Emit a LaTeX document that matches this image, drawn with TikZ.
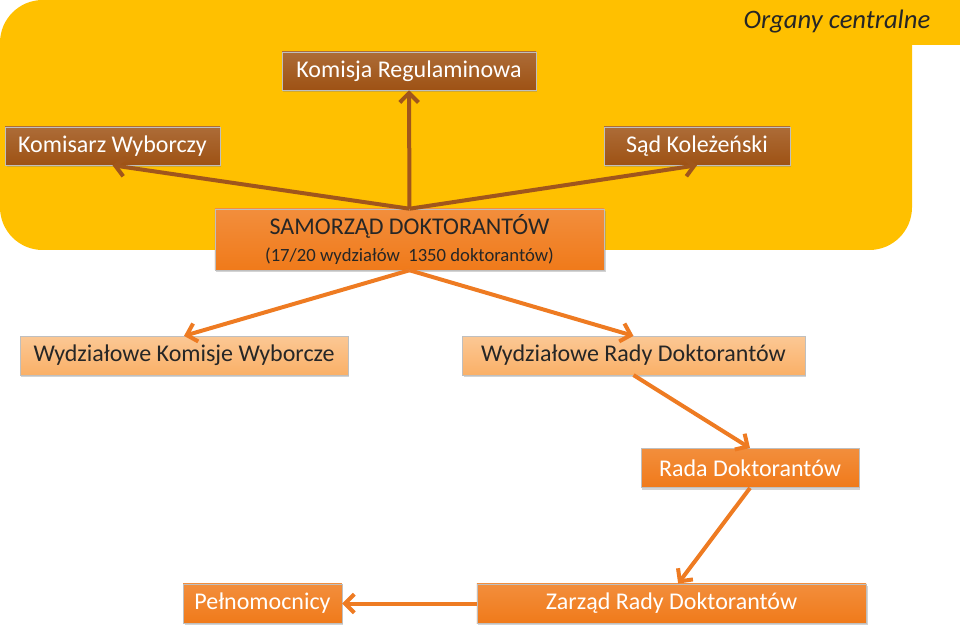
\documentclass[tikz,border=0pt]{standalone}
\usepackage{fontspec}
\setmainfont{Carlito}
\usetikzlibrary{positioning,arrows.meta,shadows}
\definecolor{panelyellow}{HTML}{FFC000}
\definecolor{brownfill}{HTML}{9E5214}
\definecolor{brownline}{HTML}{A0561C}
\definecolor{orangefill}{HTML}{F07A1A}
\definecolor{orangeline}{HTML}{EE7B22}
\definecolor{lightfill}{HTML}{FAB067}

\begin{document}
\begin{tikzpicture}[
  x=0.75pt, y=-0.75pt,
  font=\fontsize{18}{21}\selectfont,
  basebox/.style={draw=black!25, line width=0.4pt, inner sep=2pt, align=center,
              drop shadow={opacity=0.35, shadow xshift=1pt, shadow yshift=-1.5pt}},
  brownbox/.style={basebox, top color=brownfill!85!white, bottom color=brownfill,
              text=white, minimum height=28.5pt},
  orangebox/.style={basebox, top color=orangefill!85!white, bottom color=orangefill,
              text=white, minimum height=29.5pt},
  lightbox/.style={basebox, top color=lightfill!70!white, bottom color=lightfill,
              text=black!85, minimum height=29pt},
  brownarr/.style={draw=brownline, line width=3pt, -{Straight Barb[length=7pt, width=14pt]}},
  orangearr/.style={draw=orangeline, line width=3pt, -{Straight Barb[length=7pt, width=14pt]}}
]
\useasboundingbox (0,0) rectangle (960,630);
% Central bodies panel
\fill[panelyellow, rounded corners=32pt] (0,0) rectangle (912,250);
\fill[panelyellow] (860,0) rectangle (960,45);
\node[font=\fontsize{20}{24}\selectfont\itshape, text=black!85, anchor=east] (title) at (935,22) {Organy centralne};
% Central bodies
\node[brownbox, minimum width=190.5pt] (komreg) at (409,71) {Komisja Regulaminowa};
\node[brownbox, minimum width=161pt] (komwyb) at (112.5,146) {Komisarz Wyborczy};
\node[brownbox, minimum width=139.5pt] (sad) at (697,146) {Sąd Koleżeński};
\node[orangebox, text=black!85, minimum width=292pt, minimum height=45.75pt] (samorzad) at (409.5,239.5)
     {SAMORZĄD DOKTORANTÓW\\[-1pt]{\fontsize{14}{16}\selectfont (17/20 wydziałów\ \ 1350 doktorantów)}};
% Faculty level
\node[lightbox, minimum width=246pt] (wkw) at (184,355.5) {Wydziałowe Komisje Wyborcze};
\node[lightbox, minimum width=257pt] (wrd) at (633.5,355.5) {Wydziałowe Rady Doktorantów};
\node[orangebox, minimum width=163.5pt] (rada) at (750,468) {Rada Doktorantów};
\node[orangebox, minimum width=292pt] (zarzad) at (671.5,603.5) {Zarząd Rady Doktorantów};
\node[orangebox, minimum width=119pt] (peln) at (262.5,603.5) {Pełnomocnicy};
% Connectors
\draw[brownarr] (samorzad.north) -- (komreg.south);
\draw[brownarr] (samorzad.north) -- (komwyb.south);
\draw[brownarr] (samorzad.north) -- (sad.south);
\draw[orangearr] (samorzad.south) -- (wkw.north);
\draw[orangearr] (samorzad.south) -- (wrd.north);
\draw[orangearr] (wrd.south) -- (rada.north);
\draw[orangearr] (rada.south) -- ([xshift=5pt]zarzad.north);
\draw[orangearr] (zarzad.west) -- (peln.east);
\end{tikzpicture}
\end{document}
